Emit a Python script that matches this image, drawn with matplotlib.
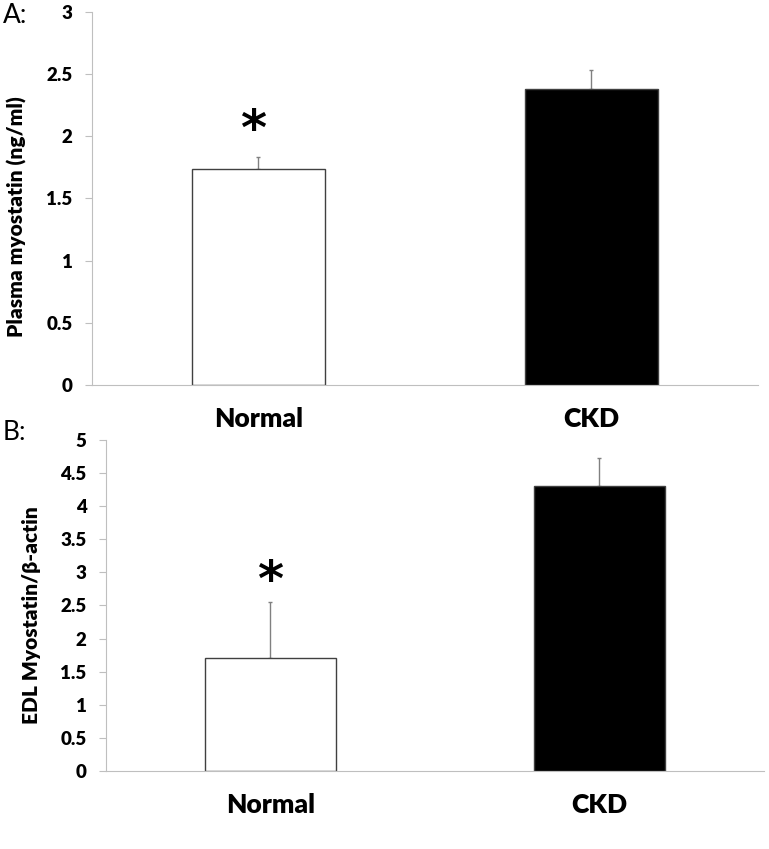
import matplotlib.pyplot as plt
import numpy as np

plt.rcParams['font.family'] = ['Lato', 'DejaVu Sans']

groups = ['Normal', 'CKD']
bar_colors = ['white', 'black']

# panel A: plasma myostatin (ng/ml)
plasma_mean = [1.74, 2.38]
plasma_err = [0.09, 0.15]

# panel B: EDL myostatin / beta-actin
edl_mean = [1.70, 4.30]
edl_err = [0.85, 0.42]

star_a = 2.04
star_b = 2.85

fig = plt.figure(figsize=(7.69, 8.49), dpi=100)
ax_a = fig.add_axes([0.1196, 0.5465, 0.866, 0.4397])
ax_b = fig.add_axes([0.1378, 0.0919, 0.8557, 0.3899])


def draw_panel(ax, means, errs, ymax, yticks, ylabel, label_x, label_y):
    x = np.arange(len(groups))
    ax.bar(x, means, width=0.4, color=bar_colors, edgecolor='#404040',
           linewidth=1.0, zorder=2)
    ax.errorbar(x, means, yerr=[np.zeros(len(errs)), errs], fmt='none',
                ecolor='#808080', elinewidth=1.0, capsize=1.5, capthick=1.0,
                zorder=1)
    ax.set_xlim(-0.5, 1.5)
    ax.set_ylim(0, ymax)
    ax.set_yticks(yticks)
    ax.set_yticklabels(['%g' % t for t in yticks], fontsize=13.5,
                       fontweight='heavy')
    ax.set_xticks(x)
    ax.set_xticklabels(groups, fontsize=19, fontweight='heavy')
    ax.tick_params(axis='x', length=0, pad=16)
    ax.tick_params(axis='y', length=5, width=0.8, color='#bfbfbf', pad=9)
    for s in ['top', 'right']:
        ax.spines[s].set_visible(False)
    for s in ['left', 'bottom']:
        ax.spines[s].set_color('#bfbfbf')
        ax.spines[s].set_linewidth(0.8)
    ax.set_ylabel(ylabel, fontsize=15, fontweight='heavy')
    ax.yaxis.set_label_coords(label_x, label_y)


draw_panel(ax_a, plasma_mean, plasma_err, 3, np.arange(0, 3.01, 0.5),
           'Plasma myostatin (ng/ml)', -0.097, 0.45)
draw_panel(ax_b, edl_mean, edl_err, 5, np.arange(0, 5.01, 0.5),
           'EDL Myostatin/\u03b2-actin', -0.098, 0.47)

ax_a.text(-0.015, star_a, '*', fontsize=36, fontweight='bold',
          family='DejaVu Sans', ha='center', va='center')
ax_b.text(0, star_b, '*', fontsize=36, fontweight='bold',
          family='DejaVu Sans', ha='center', va='center')

fig.text(0.004, 0.982, 'A:', fontsize=19, ha='left', va='center')
fig.text(0.004, 0.49, 'B:', fontsize=19, ha='left', va='center')

fig.savefig('out.png', dpi=100)
